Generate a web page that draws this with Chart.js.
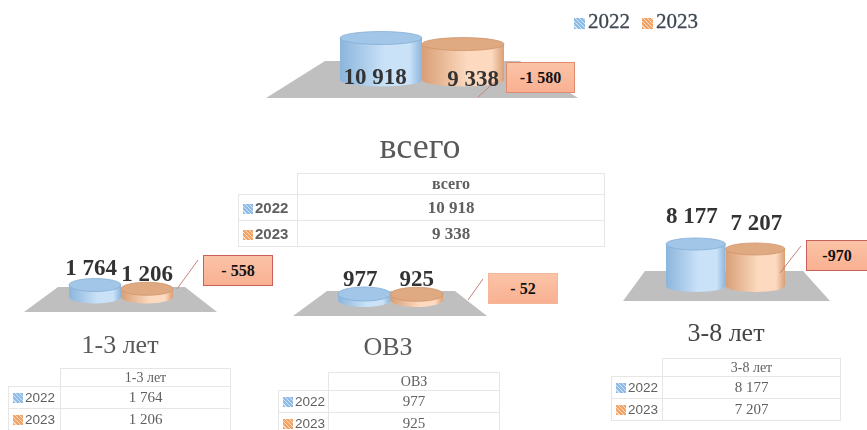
<!DOCTYPE html>
<html>
<head>
<meta charset="utf-8">
<script src="https://cdn.jsdelivr.net/npm/chart.js@4"></script>
<style>
  html, body { margin: 0; padding: 0; background: #fff; }
  #page { position: relative; width: 867px; height: 430px; overflow: hidden; filter: blur(0.35px); }
  canvas { position: absolute; }
  .title { position: absolute; font-family: "Liberation Serif", serif; color: #595959; transform: translate(-50%, -50%); white-space: nowrap; }
  .callout { position: absolute; box-sizing: border-box; display: flex; align-items: center; justify-content: center;
    font: bold 16px "Liberation Serif", serif; color: #111; background: linear-gradient(#fbc3a6, #f9b092); }
  .swatch { display: inline-block; width: 10px; height: 10px; margin-right: 2px; vertical-align: -1px; }
  .s2022 { background: repeating-linear-gradient(45deg, #8fbce6 0 2px, #d3e6f6 2px 3px); }
  .s2023 { background: repeating-linear-gradient(45deg, #f0a468 0 2px, #fbdcc3 2px 3px); }
  #legend { position: absolute; left: 574px; top: 9px; font: 21px "Liberation Serif", serif; color: #3d4650; white-space: nowrap; -webkit-text-stroke: 0.3px #3d4650; }
  #legend span.item { margin-right: 12px; }
  #legend .swatch { width: 11px; height: 11px; margin-right: 3px; }
  table { position: absolute; border-collapse: collapse; table-layout: fixed; font-family: "Liberation Serif", serif; color: #606060; }
  td { border: 1px solid #e6e6e6; padding: 0; text-align: center; white-space: nowrap; overflow: hidden; }
  td.blank { border: none; }
  td.key { font-family: "Liberation Sans", sans-serif; text-align: left; padding-left: 4px; }
</style>
</head>
<body>
<div id="page"></div>
<script>
const years = ['2022', '2023'];
const groups = ['всего', '1-3 лет', 'ОВЗ', '3-8 лет'];
const values2022 = [10918, 1764, 977, 8177];
const values2023 = [9338, 1206, 925, 7207];
const diffLabels = ['-1 580', '- 558', '- 52', '-970'];
const axisMax = [15600, 5880, 6500, 11680];

// page coordinates of everything around each chart
const layouts = [
  { canvas: [250, 10, 350, 110], bars: [340, 504, 20, 80], ry: 6.5, floor: [266, 578, 325, 520, 61, 98],
    labelX: [-6, 10], labelY: [40, 36], font: 23, leader: [478, 97, 497, 80],
    title: [420, 146, 36, '#595959'], box: [506, 62, 69, 31, '#e08b6e'],
    table: [238, 173, 59, 307, [21, 26, 26], 16, 17, 15, true] },
  { canvas: [10, 250, 240, 70], bars: [69, 173, 257, 297], ry: 6.5, floor: [24, 217, 58, 185, 287, 312],
    labelX: [-4, 0], labelY: [-16, -14], font: 23, leader: [177, 289, 198, 260],
    title: [120, 345, 26, '#595959'], box: [203, 255, 70, 31, '#c9605a'],
    table: [8, 368, 52, 170, [18, 22, 22], 14, 15, 13.5, false] },
  { canvas: [280, 255, 220, 70], bars: [338, 443, 260, 300], ry: 7, floor: [293, 487, 327, 455, 291, 316],
    labelX: [-4, 0], labelY: [-14, -14], font: 23, leader: [468, 300, 483, 279],
    title: [388, 347, 26, '#595959'], box: [488, 273, 70, 31, '#f5b79a'],
    table: [278, 372, 50, 171, [18, 22, 22], 14, 15, 13.5, false] },
  { canvas: [610, 200, 240, 110], bars: [666, 785, 226, 286], ry: 6, floor: [623, 830, 645, 803, 271, 301],
    labelX: [-4, 1], labelY: [-27, -25], font: 23, leader: [780, 273, 801, 246],
    title: [726, 333, 26, '#454545'], box: [806, 240, 62, 31, '#c9605a'],
    table: [611, 358, 51, 178, [18, 22, 22], 14, 15, 13.5, false] }
];

const page = document.getElementById('page');

const cylinderColors = [
  { edge: '#8cb5dc', mid: '#c9e2f8', top: '#a2c6e7', rim: '#85add6' },
  { edge: '#d99f76', mid: '#fcd9bf', top: '#dfa981', rim: '#d0966b' }
];

function fmt(v) {
  return String(v).replace(/\B(?=(\d{3})+$)/g, ' ');
}

// floor, cylinders and labels are painted from the bar elements
const cylinderPlugin = {
  id: 'cylinders',
  beforeDatasetsDraw(chart, args, opts) {
    const c = chart.ctx, f = opts.floor, o = opts.canvas;
    c.save();
    c.translate(-o[0], -o[1]);
    c.fillStyle = '#bfbfbf';
    c.beginPath();
    c.moveTo(f[0], f[5]);
    c.lineTo(f[2], f[4]);
    c.lineTo(f[3], f[4]);
    c.lineTo(f[1], f[5]);
    c.closePath();
    c.fill();
    c.restore();
  },
  afterDatasetsDraw(chart, args, opts) {
    const c = chart.ctx, o = opts.canvas, ry = opts.ry;
    chart.data.datasets.forEach((ds, i) => {
      const bar = chart.getDatasetMeta(i).data[0];
      const col = cylinderColors[i];
      const rx = bar.width / 2;
      const grad = c.createLinearGradient(bar.x - rx, 0, bar.x + rx, 0);
      grad.addColorStop(0, col.edge);
      grad.addColorStop(0.55, col.mid);
      grad.addColorStop(0.85, col.mid);
      grad.addColorStop(1, col.edge);
      c.fillStyle = grad;
      c.beginPath();
      c.moveTo(bar.x - rx, bar.y);
      c.lineTo(bar.x - rx, bar.base);
      c.ellipse(bar.x, bar.base, rx, ry, 0, Math.PI, 0, true);
      c.lineTo(bar.x + rx, bar.y);
      c.closePath();
      c.fill();
      c.fillStyle = col.top;
      c.strokeStyle = col.rim;
      c.lineWidth = 0.8;
      c.beginPath();
      c.ellipse(bar.x, bar.y, rx, ry, 0, 0, Math.PI * 2);
      c.fill();
      c.stroke();
    });
    c.save();
    c.translate(-o[0], -o[1]);
    c.strokeStyle = '#c4847a';
    c.lineWidth = 1;
    c.beginPath();
    c.moveTo(opts.leader[0], opts.leader[1]);
    c.lineTo(opts.leader[2], opts.leader[3]);
    c.stroke();
    c.restore();
    c.fillStyle = '#333';
    c.font = 'bold ' + opts.font + 'px "Liberation Serif", serif';
    c.textAlign = 'center';
    c.textBaseline = 'middle';
    chart.data.datasets.forEach((ds, i) => {
      const bar = chart.getDatasetMeta(i).data[0];
      c.fillText(fmt(ds.data[0]), bar.x + opts.labelX[i], bar.y + opts.labelY[i]);
    });
  }
};

function addTable(name, a, b, t) {
  const [x, y, keyW, valW, rows, headSize, valSize, keySize, strong] = t;
  const tb = document.createElement('table');
  tb.style.left = x + 'px';
  tb.style.top = y + 'px';
  tb.style.width = (keyW + valW) + 'px';
  const w = strong ? 'bold' : 'normal';
  const key = `font-size:${keySize}px;font-weight:${w}`;
  const val = `font-size:${valSize}px;font-weight:${w}`;
  tb.innerHTML =
    `<colgroup><col style="width:${keyW}px"><col style="width:${valW}px"></colgroup>
     <tr style="height:${rows[0]}px"><td class="blank"></td><td style="font-size:${headSize}px;font-weight:${w}">${name}</td></tr>
     <tr style="height:${rows[1]}px"><td class="key" style="${key}"><span class="swatch s2022"></span>${years[0]}</td><td style="${val}">${fmt(a)}</td></tr>
     <tr style="height:${rows[2]}px"><td class="key" style="${key}"><span class="swatch s2023"></span>${years[1]}</td><td style="${val}">${fmt(b)}</td></tr>`;
  page.appendChild(tb);
}

groups.forEach((name, i) => {
  const l = layouts[i];
  const cv = document.createElement('canvas');
  cv.width = l.canvas[2];
  cv.height = l.canvas[3];
  cv.style.left = l.canvas[0] + 'px';
  cv.style.top = l.canvas[1] + 'px';
  page.appendChild(cv);

  new Chart(cv.getContext('2d'), {
    type: 'bar',
    data: {
      labels: [name],
      datasets: [
        { label: years[0], data: [values2022[i]], backgroundColor: 'transparent' },
        { label: years[1], data: [values2023[i]], backgroundColor: 'transparent' }
      ]
    },
    options: {
      responsive: false,
      animation: false,
      events: [],
      barPercentage: 1,
      categoryPercentage: 1,
      layout: {
        padding: {
          left: l.bars[0] - l.canvas[0],
          right: l.canvas[0] + l.canvas[2] - l.bars[1],
          top: l.bars[2] - l.canvas[1],
          bottom: l.canvas[1] + l.canvas[3] - l.bars[3]
        }
      },
      scales: {
        x: { display: false },
        y: { display: false, min: 0, max: axisMax[i] }
      },
      plugins: {
        legend: { display: false },
        tooltip: { enabled: false },
        cylinders: l
      }
    },
    plugins: [cylinderPlugin]
  });

  const title = document.createElement('div');
  title.className = 'title';
  title.textContent = name;
  title.style.left = l.title[0] + 'px';
  title.style.top = l.title[1] + 'px';
  title.style.fontSize = l.title[2] + 'px';
  title.style.color = l.title[3];
  page.appendChild(title);

  const box = document.createElement('div');
  box.className = 'callout';
  box.textContent = diffLabels[i];
  box.style.left = l.box[0] + 'px';
  box.style.top = l.box[1] + 'px';
  box.style.width = l.box[2] + 'px';
  box.style.height = l.box[3] + 'px';
  box.style.border = '1.5px solid ' + l.box[4];
  page.appendChild(box);

  addTable(name, values2022[i], values2023[i], l.table);
});

const legend = document.createElement('div');
legend.id = 'legend';
legend.innerHTML = years.map((y, i) =>
  `<span class="item"><span class="swatch s${y}"></span>${y}</span>`).join('');
page.appendChild(legend);
</script>
</body>
</html>
